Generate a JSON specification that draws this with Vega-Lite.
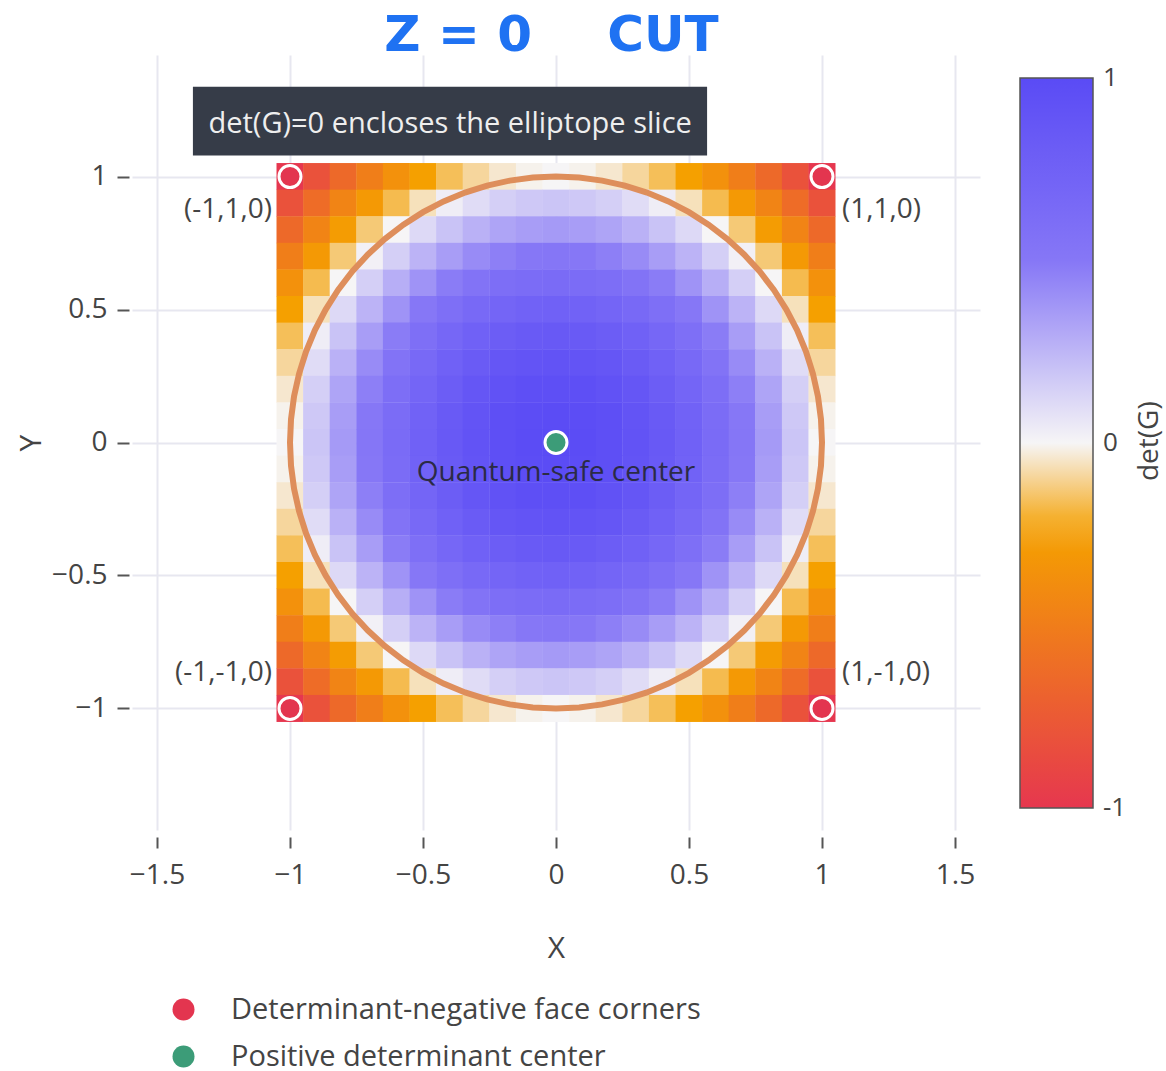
{
"$schema":"https://vega.github.io/schema/vega-lite/v6.json",
"width":848,"height":775,
"autosize":{"type":"none"},
"padding":{"left":132,"top":55,"right":186,"bottom":241},
"background":"#ffffff",
"config":{
 "font":"Open Sans",
 "view":{"stroke":null},
 "axis":{"domain":false,"grid":true,"gridColor":"#e7e7f0","gridWidth":2,"tickColor":"#555555","tickWidth":2,"labelFontSize":28,"labelColor":"#444444","titleFontSize":30,"titleFontWeight":"normal","titleColor":"#444444","labelFont":"Open Sans","titleFont":"Open Sans","labelOverlap":false}
},
"datasets":{
"grid":[
{"x":-1,"y":1,"d":-1},{"x":-0.9,"y":1,"d":-0.81},{"x":-0.8,"y":1,"d":-0.64},{"x":-0.7,"y":1,"d":-0.49},{"x":-0.6,"y":1,"d":-0.36},{"x":-0.5,"y":1,"d":-0.25},{"x":-0.4,"y":1,"d":-0.16},{"x":-0.3,"y":1,"d":-0.09},{"x":-0.2,"y":1,"d":-0.04},{"x":-0.1,"y":1,"d":-0.01},{"x":0,"y":1,"d":0},{"x":0.1,"y":1,"d":-0.01},{"x":0.2,"y":1,"d":-0.04},{"x":0.3,"y":1,"d":-0.09},{"x":0.4,"y":1,"d":-0.16},{"x":0.5,"y":1,"d":-0.25},{"x":0.6,"y":1,"d":-0.36},{"x":0.7,"y":1,"d":-0.49},{"x":0.8,"y":1,"d":-0.64},{"x":0.9,"y":1,"d":-0.81},{"x":1,"y":1,"d":-1},
{"x":-1,"y":0.9,"d":-0.81},{"x":-0.9,"y":0.9,"d":-0.62},{"x":-0.8,"y":0.9,"d":-0.45},{"x":-0.7,"y":0.9,"d":-0.3},{"x":-0.6,"y":0.9,"d":-0.17},{"x":-0.5,"y":0.9,"d":-0.06},{"x":-0.4,"y":0.9,"d":0.03},{"x":-0.3,"y":0.9,"d":0.1},{"x":-0.2,"y":0.9,"d":0.15},{"x":-0.1,"y":0.9,"d":0.18},{"x":0,"y":0.9,"d":0.19},{"x":0.1,"y":0.9,"d":0.18},{"x":0.2,"y":0.9,"d":0.15},{"x":0.3,"y":0.9,"d":0.1},{"x":0.4,"y":0.9,"d":0.03},{"x":0.5,"y":0.9,"d":-0.06},{"x":0.6,"y":0.9,"d":-0.17},{"x":0.7,"y":0.9,"d":-0.3},{"x":0.8,"y":0.9,"d":-0.45},{"x":0.9,"y":0.9,"d":-0.62},{"x":1,"y":0.9,"d":-0.81},
{"x":-1,"y":0.8,"d":-0.64},{"x":-0.9,"y":0.8,"d":-0.45},{"x":-0.8,"y":0.8,"d":-0.28},{"x":-0.7,"y":0.8,"d":-0.13},{"x":-0.6,"y":0.8,"d":0},{"x":-0.5,"y":0.8,"d":0.11},{"x":-0.4,"y":0.8,"d":0.2},{"x":-0.3,"y":0.8,"d":0.27},{"x":-0.2,"y":0.8,"d":0.32},{"x":-0.1,"y":0.8,"d":0.35},{"x":0,"y":0.8,"d":0.36},{"x":0.1,"y":0.8,"d":0.35},{"x":0.2,"y":0.8,"d":0.32},{"x":0.3,"y":0.8,"d":0.27},{"x":0.4,"y":0.8,"d":0.2},{"x":0.5,"y":0.8,"d":0.11},{"x":0.6,"y":0.8,"d":0},{"x":0.7,"y":0.8,"d":-0.13},{"x":0.8,"y":0.8,"d":-0.28},{"x":0.9,"y":0.8,"d":-0.45},{"x":1,"y":0.8,"d":-0.64},
{"x":-1,"y":0.7,"d":-0.49},{"x":-0.9,"y":0.7,"d":-0.3},{"x":-0.8,"y":0.7,"d":-0.13},{"x":-0.7,"y":0.7,"d":0.02},{"x":-0.6,"y":0.7,"d":0.15},{"x":-0.5,"y":0.7,"d":0.26},{"x":-0.4,"y":0.7,"d":0.35},{"x":-0.3,"y":0.7,"d":0.42},{"x":-0.2,"y":0.7,"d":0.47},{"x":-0.1,"y":0.7,"d":0.5},{"x":0,"y":0.7,"d":0.51},{"x":0.1,"y":0.7,"d":0.5},{"x":0.2,"y":0.7,"d":0.47},{"x":0.3,"y":0.7,"d":0.42},{"x":0.4,"y":0.7,"d":0.35},{"x":0.5,"y":0.7,"d":0.26},{"x":0.6,"y":0.7,"d":0.15},{"x":0.7,"y":0.7,"d":0.02},{"x":0.8,"y":0.7,"d":-0.13},{"x":0.9,"y":0.7,"d":-0.3},{"x":1,"y":0.7,"d":-0.49},
{"x":-1,"y":0.6,"d":-0.36},{"x":-0.9,"y":0.6,"d":-0.17},{"x":-0.8,"y":0.6,"d":0},{"x":-0.7,"y":0.6,"d":0.15},{"x":-0.6,"y":0.6,"d":0.28},{"x":-0.5,"y":0.6,"d":0.39},{"x":-0.4,"y":0.6,"d":0.48},{"x":-0.3,"y":0.6,"d":0.55},{"x":-0.2,"y":0.6,"d":0.6},{"x":-0.1,"y":0.6,"d":0.63},{"x":0,"y":0.6,"d":0.64},{"x":0.1,"y":0.6,"d":0.63},{"x":0.2,"y":0.6,"d":0.6},{"x":0.3,"y":0.6,"d":0.55},{"x":0.4,"y":0.6,"d":0.48},{"x":0.5,"y":0.6,"d":0.39},{"x":0.6,"y":0.6,"d":0.28},{"x":0.7,"y":0.6,"d":0.15},{"x":0.8,"y":0.6,"d":0},{"x":0.9,"y":0.6,"d":-0.17},{"x":1,"y":0.6,"d":-0.36},
{"x":-1,"y":0.5,"d":-0.25},{"x":-0.9,"y":0.5,"d":-0.06},{"x":-0.8,"y":0.5,"d":0.11},{"x":-0.7,"y":0.5,"d":0.26},{"x":-0.6,"y":0.5,"d":0.39},{"x":-0.5,"y":0.5,"d":0.5},{"x":-0.4,"y":0.5,"d":0.59},{"x":-0.3,"y":0.5,"d":0.66},{"x":-0.2,"y":0.5,"d":0.71},{"x":-0.1,"y":0.5,"d":0.74},{"x":0,"y":0.5,"d":0.75},{"x":0.1,"y":0.5,"d":0.74},{"x":0.2,"y":0.5,"d":0.71},{"x":0.3,"y":0.5,"d":0.66},{"x":0.4,"y":0.5,"d":0.59},{"x":0.5,"y":0.5,"d":0.5},{"x":0.6,"y":0.5,"d":0.39},{"x":0.7,"y":0.5,"d":0.26},{"x":0.8,"y":0.5,"d":0.11},{"x":0.9,"y":0.5,"d":-0.06},{"x":1,"y":0.5,"d":-0.25},
{"x":-1,"y":0.4,"d":-0.16},{"x":-0.9,"y":0.4,"d":0.03},{"x":-0.8,"y":0.4,"d":0.2},{"x":-0.7,"y":0.4,"d":0.35},{"x":-0.6,"y":0.4,"d":0.48},{"x":-0.5,"y":0.4,"d":0.59},{"x":-0.4,"y":0.4,"d":0.68},{"x":-0.3,"y":0.4,"d":0.75},{"x":-0.2,"y":0.4,"d":0.8},{"x":-0.1,"y":0.4,"d":0.83},{"x":0,"y":0.4,"d":0.84},{"x":0.1,"y":0.4,"d":0.83},{"x":0.2,"y":0.4,"d":0.8},{"x":0.3,"y":0.4,"d":0.75},{"x":0.4,"y":0.4,"d":0.68},{"x":0.5,"y":0.4,"d":0.59},{"x":0.6,"y":0.4,"d":0.48},{"x":0.7,"y":0.4,"d":0.35},{"x":0.8,"y":0.4,"d":0.2},{"x":0.9,"y":0.4,"d":0.03},{"x":1,"y":0.4,"d":-0.16},
{"x":-1,"y":0.3,"d":-0.09},{"x":-0.9,"y":0.3,"d":0.1},{"x":-0.8,"y":0.3,"d":0.27},{"x":-0.7,"y":0.3,"d":0.42},{"x":-0.6,"y":0.3,"d":0.55},{"x":-0.5,"y":0.3,"d":0.66},{"x":-0.4,"y":0.3,"d":0.75},{"x":-0.3,"y":0.3,"d":0.82},{"x":-0.2,"y":0.3,"d":0.87},{"x":-0.1,"y":0.3,"d":0.9},{"x":0,"y":0.3,"d":0.91},{"x":0.1,"y":0.3,"d":0.9},{"x":0.2,"y":0.3,"d":0.87},{"x":0.3,"y":0.3,"d":0.82},{"x":0.4,"y":0.3,"d":0.75},{"x":0.5,"y":0.3,"d":0.66},{"x":0.6,"y":0.3,"d":0.55},{"x":0.7,"y":0.3,"d":0.42},{"x":0.8,"y":0.3,"d":0.27},{"x":0.9,"y":0.3,"d":0.1},{"x":1,"y":0.3,"d":-0.09},
{"x":-1,"y":0.2,"d":-0.04},{"x":-0.9,"y":0.2,"d":0.15},{"x":-0.8,"y":0.2,"d":0.32},{"x":-0.7,"y":0.2,"d":0.47},{"x":-0.6,"y":0.2,"d":0.6},{"x":-0.5,"y":0.2,"d":0.71},{"x":-0.4,"y":0.2,"d":0.8},{"x":-0.3,"y":0.2,"d":0.87},{"x":-0.2,"y":0.2,"d":0.92},{"x":-0.1,"y":0.2,"d":0.95},{"x":0,"y":0.2,"d":0.96},{"x":0.1,"y":0.2,"d":0.95},{"x":0.2,"y":0.2,"d":0.92},{"x":0.3,"y":0.2,"d":0.87},{"x":0.4,"y":0.2,"d":0.8},{"x":0.5,"y":0.2,"d":0.71},{"x":0.6,"y":0.2,"d":0.6},{"x":0.7,"y":0.2,"d":0.47},{"x":0.8,"y":0.2,"d":0.32},{"x":0.9,"y":0.2,"d":0.15},{"x":1,"y":0.2,"d":-0.04},
{"x":-1,"y":0.1,"d":-0.01},{"x":-0.9,"y":0.1,"d":0.18},{"x":-0.8,"y":0.1,"d":0.35},{"x":-0.7,"y":0.1,"d":0.5},{"x":-0.6,"y":0.1,"d":0.63},{"x":-0.5,"y":0.1,"d":0.74},{"x":-0.4,"y":0.1,"d":0.83},{"x":-0.3,"y":0.1,"d":0.9},{"x":-0.2,"y":0.1,"d":0.95},{"x":-0.1,"y":0.1,"d":0.98},{"x":0,"y":0.1,"d":0.99},{"x":0.1,"y":0.1,"d":0.98},{"x":0.2,"y":0.1,"d":0.95},{"x":0.3,"y":0.1,"d":0.9},{"x":0.4,"y":0.1,"d":0.83},{"x":0.5,"y":0.1,"d":0.74},{"x":0.6,"y":0.1,"d":0.63},{"x":0.7,"y":0.1,"d":0.5},{"x":0.8,"y":0.1,"d":0.35},{"x":0.9,"y":0.1,"d":0.18},{"x":1,"y":0.1,"d":-0.01},
{"x":-1,"y":0,"d":0},{"x":-0.9,"y":0,"d":0.19},{"x":-0.8,"y":0,"d":0.36},{"x":-0.7,"y":0,"d":0.51},{"x":-0.6,"y":0,"d":0.64},{"x":-0.5,"y":0,"d":0.75},{"x":-0.4,"y":0,"d":0.84},{"x":-0.3,"y":0,"d":0.91},{"x":-0.2,"y":0,"d":0.96},{"x":-0.1,"y":0,"d":0.99},{"x":0,"y":0,"d":1},{"x":0.1,"y":0,"d":0.99},{"x":0.2,"y":0,"d":0.96},{"x":0.3,"y":0,"d":0.91},{"x":0.4,"y":0,"d":0.84},{"x":0.5,"y":0,"d":0.75},{"x":0.6,"y":0,"d":0.64},{"x":0.7,"y":0,"d":0.51},{"x":0.8,"y":0,"d":0.36},{"x":0.9,"y":0,"d":0.19},{"x":1,"y":0,"d":0},
{"x":-1,"y":-0.1,"d":-0.01},{"x":-0.9,"y":-0.1,"d":0.18},{"x":-0.8,"y":-0.1,"d":0.35},{"x":-0.7,"y":-0.1,"d":0.5},{"x":-0.6,"y":-0.1,"d":0.63},{"x":-0.5,"y":-0.1,"d":0.74},{"x":-0.4,"y":-0.1,"d":0.83},{"x":-0.3,"y":-0.1,"d":0.9},{"x":-0.2,"y":-0.1,"d":0.95},{"x":-0.1,"y":-0.1,"d":0.98},{"x":0,"y":-0.1,"d":0.99},{"x":0.1,"y":-0.1,"d":0.98},{"x":0.2,"y":-0.1,"d":0.95},{"x":0.3,"y":-0.1,"d":0.9},{"x":0.4,"y":-0.1,"d":0.83},{"x":0.5,"y":-0.1,"d":0.74},{"x":0.6,"y":-0.1,"d":0.63},{"x":0.7,"y":-0.1,"d":0.5},{"x":0.8,"y":-0.1,"d":0.35},{"x":0.9,"y":-0.1,"d":0.18},{"x":1,"y":-0.1,"d":-0.01},
{"x":-1,"y":-0.2,"d":-0.04},{"x":-0.9,"y":-0.2,"d":0.15},{"x":-0.8,"y":-0.2,"d":0.32},{"x":-0.7,"y":-0.2,"d":0.47},{"x":-0.6,"y":-0.2,"d":0.6},{"x":-0.5,"y":-0.2,"d":0.71},{"x":-0.4,"y":-0.2,"d":0.8},{"x":-0.3,"y":-0.2,"d":0.87},{"x":-0.2,"y":-0.2,"d":0.92},{"x":-0.1,"y":-0.2,"d":0.95},{"x":0,"y":-0.2,"d":0.96},{"x":0.1,"y":-0.2,"d":0.95},{"x":0.2,"y":-0.2,"d":0.92},{"x":0.3,"y":-0.2,"d":0.87},{"x":0.4,"y":-0.2,"d":0.8},{"x":0.5,"y":-0.2,"d":0.71},{"x":0.6,"y":-0.2,"d":0.6},{"x":0.7,"y":-0.2,"d":0.47},{"x":0.8,"y":-0.2,"d":0.32},{"x":0.9,"y":-0.2,"d":0.15},{"x":1,"y":-0.2,"d":-0.04},
{"x":-1,"y":-0.3,"d":-0.09},{"x":-0.9,"y":-0.3,"d":0.1},{"x":-0.8,"y":-0.3,"d":0.27},{"x":-0.7,"y":-0.3,"d":0.42},{"x":-0.6,"y":-0.3,"d":0.55},{"x":-0.5,"y":-0.3,"d":0.66},{"x":-0.4,"y":-0.3,"d":0.75},{"x":-0.3,"y":-0.3,"d":0.82},{"x":-0.2,"y":-0.3,"d":0.87},{"x":-0.1,"y":-0.3,"d":0.9},{"x":0,"y":-0.3,"d":0.91},{"x":0.1,"y":-0.3,"d":0.9},{"x":0.2,"y":-0.3,"d":0.87},{"x":0.3,"y":-0.3,"d":0.82},{"x":0.4,"y":-0.3,"d":0.75},{"x":0.5,"y":-0.3,"d":0.66},{"x":0.6,"y":-0.3,"d":0.55},{"x":0.7,"y":-0.3,"d":0.42},{"x":0.8,"y":-0.3,"d":0.27},{"x":0.9,"y":-0.3,"d":0.1},{"x":1,"y":-0.3,"d":-0.09},
{"x":-1,"y":-0.4,"d":-0.16},{"x":-0.9,"y":-0.4,"d":0.03},{"x":-0.8,"y":-0.4,"d":0.2},{"x":-0.7,"y":-0.4,"d":0.35},{"x":-0.6,"y":-0.4,"d":0.48},{"x":-0.5,"y":-0.4,"d":0.59},{"x":-0.4,"y":-0.4,"d":0.68},{"x":-0.3,"y":-0.4,"d":0.75},{"x":-0.2,"y":-0.4,"d":0.8},{"x":-0.1,"y":-0.4,"d":0.83},{"x":0,"y":-0.4,"d":0.84},{"x":0.1,"y":-0.4,"d":0.83},{"x":0.2,"y":-0.4,"d":0.8},{"x":0.3,"y":-0.4,"d":0.75},{"x":0.4,"y":-0.4,"d":0.68},{"x":0.5,"y":-0.4,"d":0.59},{"x":0.6,"y":-0.4,"d":0.48},{"x":0.7,"y":-0.4,"d":0.35},{"x":0.8,"y":-0.4,"d":0.2},{"x":0.9,"y":-0.4,"d":0.03},{"x":1,"y":-0.4,"d":-0.16},
{"x":-1,"y":-0.5,"d":-0.25},{"x":-0.9,"y":-0.5,"d":-0.06},{"x":-0.8,"y":-0.5,"d":0.11},{"x":-0.7,"y":-0.5,"d":0.26},{"x":-0.6,"y":-0.5,"d":0.39},{"x":-0.5,"y":-0.5,"d":0.5},{"x":-0.4,"y":-0.5,"d":0.59},{"x":-0.3,"y":-0.5,"d":0.66},{"x":-0.2,"y":-0.5,"d":0.71},{"x":-0.1,"y":-0.5,"d":0.74},{"x":0,"y":-0.5,"d":0.75},{"x":0.1,"y":-0.5,"d":0.74},{"x":0.2,"y":-0.5,"d":0.71},{"x":0.3,"y":-0.5,"d":0.66},{"x":0.4,"y":-0.5,"d":0.59},{"x":0.5,"y":-0.5,"d":0.5},{"x":0.6,"y":-0.5,"d":0.39},{"x":0.7,"y":-0.5,"d":0.26},{"x":0.8,"y":-0.5,"d":0.11},{"x":0.9,"y":-0.5,"d":-0.06},{"x":1,"y":-0.5,"d":-0.25},
{"x":-1,"y":-0.6,"d":-0.36},{"x":-0.9,"y":-0.6,"d":-0.17},{"x":-0.8,"y":-0.6,"d":0},{"x":-0.7,"y":-0.6,"d":0.15},{"x":-0.6,"y":-0.6,"d":0.28},{"x":-0.5,"y":-0.6,"d":0.39},{"x":-0.4,"y":-0.6,"d":0.48},{"x":-0.3,"y":-0.6,"d":0.55},{"x":-0.2,"y":-0.6,"d":0.6},{"x":-0.1,"y":-0.6,"d":0.63},{"x":0,"y":-0.6,"d":0.64},{"x":0.1,"y":-0.6,"d":0.63},{"x":0.2,"y":-0.6,"d":0.6},{"x":0.3,"y":-0.6,"d":0.55},{"x":0.4,"y":-0.6,"d":0.48},{"x":0.5,"y":-0.6,"d":0.39},{"x":0.6,"y":-0.6,"d":0.28},{"x":0.7,"y":-0.6,"d":0.15},{"x":0.8,"y":-0.6,"d":0},{"x":0.9,"y":-0.6,"d":-0.17},{"x":1,"y":-0.6,"d":-0.36},
{"x":-1,"y":-0.7,"d":-0.49},{"x":-0.9,"y":-0.7,"d":-0.3},{"x":-0.8,"y":-0.7,"d":-0.13},{"x":-0.7,"y":-0.7,"d":0.02},{"x":-0.6,"y":-0.7,"d":0.15},{"x":-0.5,"y":-0.7,"d":0.26},{"x":-0.4,"y":-0.7,"d":0.35},{"x":-0.3,"y":-0.7,"d":0.42},{"x":-0.2,"y":-0.7,"d":0.47},{"x":-0.1,"y":-0.7,"d":0.5},{"x":0,"y":-0.7,"d":0.51},{"x":0.1,"y":-0.7,"d":0.5},{"x":0.2,"y":-0.7,"d":0.47},{"x":0.3,"y":-0.7,"d":0.42},{"x":0.4,"y":-0.7,"d":0.35},{"x":0.5,"y":-0.7,"d":0.26},{"x":0.6,"y":-0.7,"d":0.15},{"x":0.7,"y":-0.7,"d":0.02},{"x":0.8,"y":-0.7,"d":-0.13},{"x":0.9,"y":-0.7,"d":-0.3},{"x":1,"y":-0.7,"d":-0.49},
{"x":-1,"y":-0.8,"d":-0.64},{"x":-0.9,"y":-0.8,"d":-0.45},{"x":-0.8,"y":-0.8,"d":-0.28},{"x":-0.7,"y":-0.8,"d":-0.13},{"x":-0.6,"y":-0.8,"d":0},{"x":-0.5,"y":-0.8,"d":0.11},{"x":-0.4,"y":-0.8,"d":0.2},{"x":-0.3,"y":-0.8,"d":0.27},{"x":-0.2,"y":-0.8,"d":0.32},{"x":-0.1,"y":-0.8,"d":0.35},{"x":0,"y":-0.8,"d":0.36},{"x":0.1,"y":-0.8,"d":0.35},{"x":0.2,"y":-0.8,"d":0.32},{"x":0.3,"y":-0.8,"d":0.27},{"x":0.4,"y":-0.8,"d":0.2},{"x":0.5,"y":-0.8,"d":0.11},{"x":0.6,"y":-0.8,"d":0},{"x":0.7,"y":-0.8,"d":-0.13},{"x":0.8,"y":-0.8,"d":-0.28},{"x":0.9,"y":-0.8,"d":-0.45},{"x":1,"y":-0.8,"d":-0.64},
{"x":-1,"y":-0.9,"d":-0.81},{"x":-0.9,"y":-0.9,"d":-0.62},{"x":-0.8,"y":-0.9,"d":-0.45},{"x":-0.7,"y":-0.9,"d":-0.3},{"x":-0.6,"y":-0.9,"d":-0.17},{"x":-0.5,"y":-0.9,"d":-0.06},{"x":-0.4,"y":-0.9,"d":0.03},{"x":-0.3,"y":-0.9,"d":0.1},{"x":-0.2,"y":-0.9,"d":0.15},{"x":-0.1,"y":-0.9,"d":0.18},{"x":0,"y":-0.9,"d":0.19},{"x":0.1,"y":-0.9,"d":0.18},{"x":0.2,"y":-0.9,"d":0.15},{"x":0.3,"y":-0.9,"d":0.1},{"x":0.4,"y":-0.9,"d":0.03},{"x":0.5,"y":-0.9,"d":-0.06},{"x":0.6,"y":-0.9,"d":-0.17},{"x":0.7,"y":-0.9,"d":-0.3},{"x":0.8,"y":-0.9,"d":-0.45},{"x":0.9,"y":-0.9,"d":-0.62},{"x":1,"y":-0.9,"d":-0.81},
{"x":-1,"y":-1,"d":-1},{"x":-0.9,"y":-1,"d":-0.81},{"x":-0.8,"y":-1,"d":-0.64},{"x":-0.7,"y":-1,"d":-0.49},{"x":-0.6,"y":-1,"d":-0.36},{"x":-0.5,"y":-1,"d":-0.25},{"x":-0.4,"y":-1,"d":-0.16},{"x":-0.3,"y":-1,"d":-0.09},{"x":-0.2,"y":-1,"d":-0.04},{"x":-0.1,"y":-1,"d":-0.01},{"x":0,"y":-1,"d":0},{"x":0.1,"y":-1,"d":-0.01},{"x":0.2,"y":-1,"d":-0.04},{"x":0.3,"y":-1,"d":-0.09},{"x":0.4,"y":-1,"d":-0.16},{"x":0.5,"y":-1,"d":-0.25},{"x":0.6,"y":-1,"d":-0.36},{"x":0.7,"y":-1,"d":-0.49},{"x":0.8,"y":-1,"d":-0.64},{"x":0.9,"y":-1,"d":-0.81},{"x":1,"y":-1,"d":-1}
],
"ring":[
{"a":0,"x":1,"y":0},{"a":5,"x":0.9962,"y":0.0872},{"a":10,"x":0.9848,"y":0.1736},{"a":15,"x":0.9659,"y":0.2588},{"a":20,"x":0.9397,"y":0.342},{"a":25,"x":0.9063,"y":0.4226},{"a":30,"x":0.866,"y":0.5},{"a":35,"x":0.8192,"y":0.5736},{"a":40,"x":0.766,"y":0.6428},{"a":45,"x":0.7071,"y":0.7071},{"a":50,"x":0.6428,"y":0.766},{"a":55,"x":0.5736,"y":0.8192},{"a":60,"x":0.5,"y":0.866},{"a":65,"x":0.4226,"y":0.9063},{"a":70,"x":0.342,"y":0.9397},{"a":75,"x":0.2588,"y":0.9659},{"a":80,"x":0.1736,"y":0.9848},{"a":85,"x":0.0872,"y":0.9962},{"a":90,"x":0,"y":1},
{"a":95,"x":-0.0872,"y":0.9962},{"a":100,"x":-0.1736,"y":0.9848},{"a":105,"x":-0.2588,"y":0.9659},{"a":110,"x":-0.342,"y":0.9397},{"a":115,"x":-0.4226,"y":0.9063},{"a":120,"x":-0.5,"y":0.866},{"a":125,"x":-0.5736,"y":0.8192},{"a":130,"x":-0.6428,"y":0.766},{"a":135,"x":-0.7071,"y":0.7071},{"a":140,"x":-0.766,"y":0.6428},{"a":145,"x":-0.8192,"y":0.5736},{"a":150,"x":-0.866,"y":0.5},{"a":155,"x":-0.9063,"y":0.4226},{"a":160,"x":-0.9397,"y":0.342},{"a":165,"x":-0.9659,"y":0.2588},{"a":170,"x":-0.9848,"y":0.1736},{"a":175,"x":-0.9962,"y":0.0872},{"a":180,"x":-1,"y":0},
{"a":185,"x":-0.9962,"y":-0.0872},{"a":190,"x":-0.9848,"y":-0.1736},{"a":195,"x":-0.9659,"y":-0.2588},{"a":200,"x":-0.9397,"y":-0.342},{"a":205,"x":-0.9063,"y":-0.4226},{"a":210,"x":-0.866,"y":-0.5},{"a":215,"x":-0.8192,"y":-0.5736},{"a":220,"x":-0.766,"y":-0.6428},{"a":225,"x":-0.7071,"y":-0.7071},{"a":230,"x":-0.6428,"y":-0.766},{"a":235,"x":-0.5736,"y":-0.8192},{"a":240,"x":-0.5,"y":-0.866},{"a":245,"x":-0.4226,"y":-0.9063},{"a":250,"x":-0.342,"y":-0.9397},{"a":255,"x":-0.2588,"y":-0.9659},{"a":260,"x":-0.1736,"y":-0.9848},{"a":265,"x":-0.0872,"y":-0.9962},{"a":270,"x":0,"y":-1},
{"a":275,"x":0.0872,"y":-0.9962},{"a":280,"x":0.1736,"y":-0.9848},{"a":285,"x":0.2588,"y":-0.9659},{"a":290,"x":0.342,"y":-0.9397},{"a":295,"x":0.4226,"y":-0.9063},{"a":300,"x":0.5,"y":-0.866},{"a":305,"x":0.5736,"y":-0.8192},{"a":310,"x":0.6428,"y":-0.766},{"a":315,"x":0.7071,"y":-0.7071},{"a":320,"x":0.766,"y":-0.6428},{"a":325,"x":0.8192,"y":-0.5736},{"a":330,"x":0.866,"y":-0.5},{"a":335,"x":0.9063,"y":-0.4226},{"a":340,"x":0.9397,"y":-0.342},{"a":345,"x":0.9659,"y":-0.2588},{"a":350,"x":0.9848,"y":-0.1736},{"a":355,"x":0.9962,"y":-0.0872},{"a":360,"x":1,"y":0}
],
"pts":[
{"x":-1,"y":1,"kind":"Determinant-negative face corners","label":"(-1,1,0)"},
{"x":1,"y":1,"kind":"Determinant-negative face corners","label":"(1,1,0)"},
{"x":-1,"y":-1,"kind":"Determinant-negative face corners","label":"(-1,-1,0)"},
{"x":1,"y":-1,"kind":"Determinant-negative face corners","label":"(1,-1,0)"},
{"x":0,"y":0,"kind":"Positive determinant center","label":"Quantum-safe center"}
],
"notes":[
{"note":"det(G)=0 encloses the elliptope slice","role":"box"},
{"note":"Z = 0","role":"hand1"},
{"note":"CUT","role":"hand2"},
{"note":"det(G)","role":"cbar"}
]
},
"layer":[
{"data":{"name":"grid"},
 "mark":{"type":"rect","width":27,"height":27},
 "encoding":{
  "x":{"field":"x","type":"quantitative","title":"X","scale":{"domain":[-1.594,1.594],"nice":false,"zero":false},"axis":{"values":[-1.5,-1,-0.5,0,0.5,1,1.5],"format":"~g","offset":7,"tickSize":11,"labelPadding":13,"titlePadding":44}},
  "y":{"field":"y","type":"quantitative","title":"Y","scale":{"domain":[-1.457,1.457],"nice":false,"zero":false},"axis":{"values":[-1,-0.5,0,0.5,1],"format":"~g","offset":3,"tickSize":12,"labelPadding":10,"titlePadding":5}},
  "color":{"field":"d","type":"quantitative",
   "scale":{"domain":[-1,-0.25,0,0.5,1],"range":["#e6374f","#f5a000","#f6f5f6","#8677f6","#5a4bf5"],"interpolate":"rgb"},
   "legend":{"orient":"none","legendX":888,"legendY":23,"direction":"vertical","gradientLength":730,"gradientThickness":73,"gradientStrokeColor":"#555555","gradientStrokeWidth":1.5,"values":[-1,0,1],"format":"~g","labelExpr":"replace(datum.label,'−','-')","labelFontSize":26,"labelColor":"#444444","labelOffset":10,"title":null,"padding":0,
     "encode":{"labels":{"update":{"baseline":{"value":"middle"}}}}}}}},
{"data":{"name":"ring"},
 "mark":{"type":"line","stroke":"#de8e5b","strokeWidth":6,"strokeCap":"round"},
 "encoding":{"x":{"field":"x","type":"quantitative","title":"X"},"y":{"field":"y","type":"quantitative","title":"Y"},"order":{"field":"a","type":"quantitative"}}},
{"data":{"name":"pts"},
 "mark":{"type":"circle","size":484,"opacity":1,"stroke":"#ffffff","strokeWidth":3},
 "encoding":{"x":{"field":"x","type":"quantitative","title":"X"},"y":{"field":"y","type":"quantitative","title":"Y"},
  "fill":{"field":"kind","type":"nominal",
   "scale":{"domain":["Determinant-negative face corners","Positive determinant center"],"range":["#e3354f","#3c9c78"]},
   "legend":{"orient":"none","legendX":37,"legendY":940,"title":null,"symbolType":"circle","symbolSize":484,"symbolStrokeWidth":0,"labelFontSize":29,"labelColor":"#444444","labelOffset":33,"labelLimit":1000,"rowPadding":17,"padding":0,"direction":"vertical"}}}},
{"data":{"name":"pts"},"transform":[{"filter":"datum.x < 0 && datum.y > 0"}],
 "mark":{"type":"text","align":"right","baseline":"middle","dx":-18,"dy":33,"fontSize":28,"color":"#444444"},
 "encoding":{"x":{"field":"x","type":"quantitative","title":"X"},"y":{"field":"y","type":"quantitative","title":"Y"},"text":{"field":"label"}}},
{"data":{"name":"pts"},"transform":[{"filter":"datum.x > 0 && datum.y > 0"}],
 "mark":{"type":"text","align":"left","baseline":"middle","dx":20,"dy":33,"fontSize":28,"color":"#444444"},
 "encoding":{"x":{"field":"x","type":"quantitative","title":"X"},"y":{"field":"y","type":"quantitative","title":"Y"},"text":{"field":"label"}}},
{"data":{"name":"pts"},"transform":[{"filter":"datum.x < 0 && datum.y < 0"}],
 "mark":{"type":"text","align":"right","baseline":"middle","dx":-18,"dy":-35,"fontSize":28,"color":"#444444"},
 "encoding":{"x":{"field":"x","type":"quantitative","title":"X"},"y":{"field":"y","type":"quantitative","title":"Y"},"text":{"field":"label"}}},
{"data":{"name":"pts"},"transform":[{"filter":"datum.x > 0 && datum.y < 0"}],
 "mark":{"type":"text","align":"left","baseline":"middle","dx":20,"dy":-35,"fontSize":28,"color":"#444444"},
 "encoding":{"x":{"field":"x","type":"quantitative","title":"X"},"y":{"field":"y","type":"quantitative","title":"Y"},"text":{"field":"label"}}},
{"data":{"name":"pts"},"transform":[{"filter":"datum.x == 0 && datum.y == 0"}],
 "mark":{"type":"text","align":"center","baseline":"middle","dy":30,"fontSize":28,"color":"#2b2b45"},
 "encoding":{"x":{"field":"x","type":"quantitative","title":"X"},"y":{"field":"y","type":"quantitative","title":"Y"},"text":{"field":"label"}}},
{"data":{"name":"notes"},"transform":[{"filter":"datum.role == 'box'"}],
 "mark":{"type":"rect","fill":"#363c48"},
 "encoding":{"x":{"datum":-1.365,"type":"quantitative"},"x2":{"datum":0.568},"y":{"datum":1.079,"type":"quantitative"},"y2":{"datum":1.338}}},
{"data":{"name":"notes"},"transform":[{"filter":"datum.role == 'box'"}],
 "mark":{"type":"text","align":"center","baseline":"middle","fontSize":29,"color":"#eeeeee"},
 "encoding":{"x":{"datum":-0.398,"type":"quantitative"},"y":{"datum":1.196,"type":"quantitative"},"text":{"field":"note"}}},
{"data":{"name":"notes"},"transform":[{"filter":"datum.role == 'hand1'"}],
 "mark":{"type":"text","align":"center","baseline":"middle","font":"DejaVu Sans","fontWeight":"bold","fontSize":50,"color":"#1f72f2"},
 "encoding":{"x":{"datum":-0.368,"type":"quantitative"},"y":{"datum":1.53,"type":"quantitative"},"text":{"field":"note"}}},
{"data":{"name":"notes"},"transform":[{"filter":"datum.role == 'hand2'"}],
 "mark":{"type":"text","align":"center","baseline":"middle","font":"DejaVu Sans","fontWeight":"bold","fontSize":50,"color":"#1f72f2"},
 "encoding":{"x":{"datum":0.402,"type":"quantitative"},"y":{"datum":1.53,"type":"quantitative"},"text":{"field":"note"}}},
{"data":{"name":"notes"},"transform":[{"filter":"datum.role == 'cbar'"}],
 "mark":{"type":"text","align":"center","baseline":"middle","angle":270,"fontSize":28,"color":"#444444"},
 "encoding":{"x":{"datum":2.233,"type":"quantitative"},"y":{"datum":0.005,"type":"quantitative"},"text":{"field":"note"}}}
]
}
